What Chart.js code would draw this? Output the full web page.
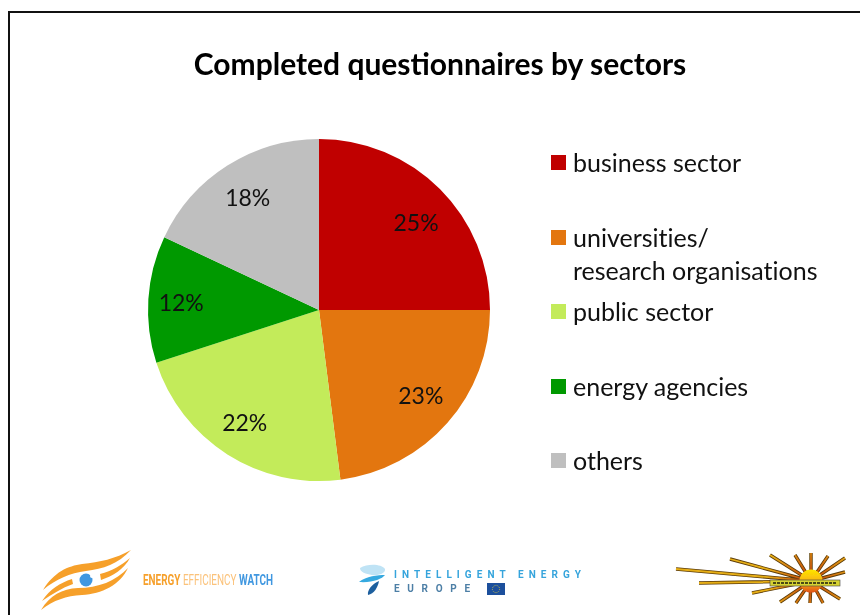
<!DOCTYPE html>
<html>
<head>
<meta charset="utf-8">
<script src="https://cdn.jsdelivr.net/npm/chart.js@4"></script>
<style>
  html, body { margin: 0; padding: 0; width: 860px; height: 615px; overflow: hidden; background: #fff; }
  #frame { position: absolute; left: 8px; top: 11px; width: 864px; height: 620px; border: 2px solid #111; box-sizing: border-box; }
  #chart { position: absolute; left: 8px; top: 11px; }
  #title { position: absolute; left: 8px; width: 864px; top: 44px; text-align: center; font: bold 30px/38px Lato, sans-serif; color: #000; white-space: nowrap; }
  .legend-item { position: absolute; left: 551px; font: 25px Lato, sans-serif; color: #111; line-height: 33px; padding-left: 22px; white-space: pre; font-variant-ligatures: none; }
  .legend-item i { position: absolute; left: 0; top: 9px; width: 15px; height: 15px; }
  #logos { position: absolute; left: 0; top: 0; }
</style>
</head>
<body>
<div id="frame"></div>
<canvas id="chart" width="864" height="604"></canvas>
<div id="title"></div>
<div id="legend"></div>
<svg id="logos" width="860" height="615" viewBox="0 0 860 615">
  <defs>
    <filter id="soft"><feGaussianBlur stdDeviation="0.4"/></filter>
    <linearGradient id="ball" x1="0" y1="0" x2="0" y2="1">
      <stop offset="0" stop-color="#ffe600"/><stop offset="0.55" stop-color="#f8b010"/><stop offset="1" stop-color="#e0501a"/>
    </linearGradient>
    <radialGradient id="ray" gradientUnits="userSpaceOnUse" cx="811" cy="581" r="45">
      <stop offset="0.2" stop-color="#c8500f"/><stop offset="1" stop-color="#e6ae14"/>
    </radialGradient>
  </defs>
  <!-- energy efficiency watch -->
  <g filter="url(#soft)">
    <g fill="#f6a02c">
      <path d="M43 590 C54 572 68 566 82 564 C100 562 115 559 131 550 C118 564 103 569 86 571 C70 573 56 579 43 590Z"/>
      <path d="M42 601 C50 589 60 583 72 579 L73 584 C62 588 52 594 42 601Z"/>
      <path d="M100 574 C112 571 122 565 130 558 C124 569 113 576 101 580Z"/>
      <path d="M41 610 C50 595 62 589 78 588 C98 588 116 581 128 568 C120 585 102 594 82 595 C66 596 54 600 41 610Z"/>
    </g>
    <circle cx="86" cy="580" r="6.5" fill="#3f97e0"/>
    <circle cx="92" cy="576" r="2" fill="#fff"/>
    <text x="143" y="585" font-family="Roboto, sans-serif" font-size="14.5" font-weight="700" textLength="130" lengthAdjust="spacingAndGlyphs"><tspan fill="#f6a02c">ENERGY </tspan><tspan fill="#fbc27a" font-weight="400">EFFICIENCY </tspan><tspan fill="#3f97e0">WATCH</tspan></text>
  </g>
  <!-- intelligent energy europe -->
  <g filter="url(#soft)">
    <path d="M360 568 C368 563 382 564 385 569 C386 574 376 576 372 575 C366 574 360 572 360 568Z" fill="#bfe3f5"/>
    <path d="M359 582 C366 576 378 575 385 575 C382 579 372 583 359 582Z" fill="#35a9e0"/>
    <path d="M368 595 C367 590 372 584 379 581 C378 587 374 594 368 595Z" fill="#1f5f9e"/>
    <text x="394" y="578" font-family="Roboto, sans-serif" font-size="10" font-weight="700" fill="#35a4dc" textLength="187">INTELLIGENT ENERGY</text>
    <text x="394" y="592" font-family="Roboto, sans-serif" font-size="10" font-weight="700" fill="#4d7fa6" textLength="76">EUROPE</text>
    <rect x="487" y="583" width="18" height="12" fill="#1d4f9c"/>
    <circle cx="496" cy="589" r="3.6" fill="none" stroke="#c9c04a" stroke-width="0.9" stroke-dasharray="1 1"/>
  </g>
  <!-- sun -->
  <g filter="url(#soft)" id="sun">
    <g stroke="#5a3a08" stroke-width="3.4">
      <path d="M811 581L676 569M811 581L699 583M811 581L730 559M811 581L752 593M811 581L770 555M811 581L795 555M811 581L811 553M811 581L828 556M811 581L845 558M811 581L845 572M811 581L840 599M811 581L823 603M811 581L810 603M811 581L796 603M811 581L780 602"/>
    </g>
    <g stroke="url(#ray)" stroke-width="1.8">
      <path d="M811 581L676 569M811 581L699 583M811 581L730 559M811 581L752 593M811 581L770 555M811 581L795 555M811 581L811 553M811 581L828 556M811 581L845 558M811 581L845 572M811 581L840 599M811 581L823 603M811 581L810 603M811 581L796 603M811 581L780 602"/>
    </g>
    <circle cx="811" cy="581" r="11.5" fill="url(#ball)"/>
    <rect x="770" y="580" width="70" height="6" fill="#d6d232" stroke="#444" stroke-width="0.6"/>
    <line x1="773" y1="583" x2="837" y2="583" stroke="#4a4a18" stroke-width="2" stroke-dasharray="3 1"/>
  </g>
</svg>
<script>
const categories = ["business sector", "universities/\nresearch organisations", "public sector", "energy agencies", "others"];
const shares = [25, 23, 22, 12, 18];
const colors = ["#c00000", "#e3760f", "#c3eb5a", "#009900", "#bfbfbf"];
const legendTops = [146, 221, 295, 370, 444];
const labelNudge = [[3, 8], [2, -1], [-3, 1], [-5, 2], [0, 1]];
const titleText = "Completed questionnaires by sectors";
const fontName = "Lato, sans-serif";

document.getElementById("title").textContent = titleText;

const legendBox = document.getElementById("legend");
categories.forEach((name, i) => {
  const row = document.createElement("div");
  row.className = "legend-item";
  row.style.top = legendTops[i] + "px";
  row.textContent = name;
  const swatch = document.createElement("i");
  swatch.style.background = colors[i];
  row.appendChild(swatch);
  legendBox.appendChild(row);
});

// percent labels, Chart.js has no datalabels without the plugin
const sliceLabels = {
  id: "sliceLabels",
  afterDatasetsDraw(chart) {
    const ctx = chart.ctx;
    ctx.save();
    ctx.font = "23px " + fontName;
    ctx.fillStyle = "#111";
    ctx.textAlign = "center";
    ctx.textBaseline = "middle";
    chart.getDatasetMeta(0).data.forEach((arc, i) => {
      const mid = (arc.startAngle + arc.endAngle) / 2;
      const r = arc.outerRadius * 0.778;
      const x = arc.x + Math.cos(mid) * r + labelNudge[i][0];
      const y = arc.y + Math.sin(mid) * r + labelNudge[i][1];
      ctx.fillText(shares[i] + "%", x, y);
    });
    ctx.restore();
  },
};

new Chart(document.getElementById("chart"), {
  type: "pie",
  data: {
    labels: categories,
    datasets: [{ data: shares, backgroundColor: colors, borderWidth: 0 }],
  },
  options: {
    responsive: false,
    animation: false,
    // canvas sits at 8,11; pie centre 319,310 radius 171
    layout: { padding: { left: 140, right: 382, top: 128, bottom: 134 } },
    plugins: {
      legend: { display: false },
      tooltip: { enabled: false },
    },
  },
  plugins: [sliceLabels],
});
</script>
</body>
</html>
